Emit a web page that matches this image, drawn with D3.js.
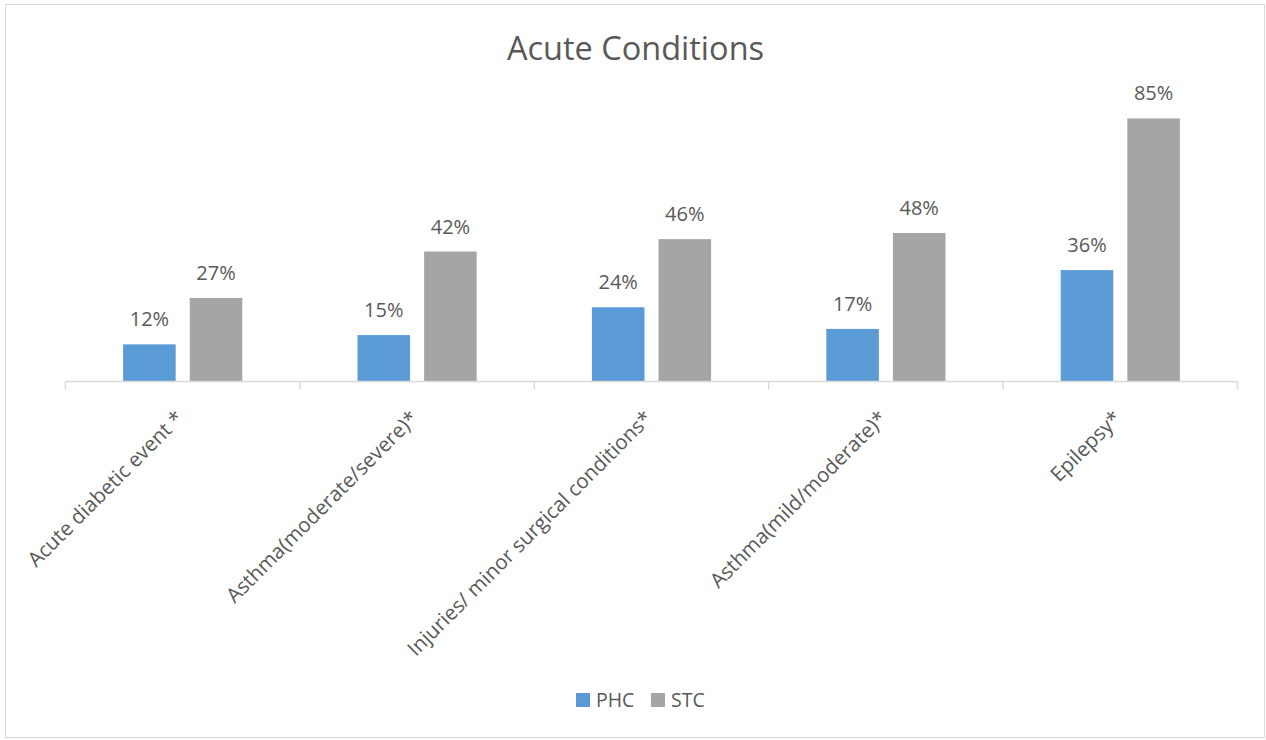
<!DOCTYPE html>
<html>
<head>
<meta charset="utf-8">
<script src="https://cdn.jsdelivr.net/npm/d3@7"></script>
<style>
  html, body { margin: 0; padding: 0; background: #ffffff; }
  svg { display: block; font-family: "Open Sans", "Noto Sans", sans-serif; }
</style>
</head>
<body>
<svg id="chart" width="1266" height="740"></svg>
<script>
// Acute conditions: share of cases handled, PHC vs STC
const categories = [
  "Acute diabetic event *",
  "Asthma(moderate/severe)*",
  "Injuries/ minor surgical conditions*",
  "Asthma(mild/moderate)*",
  "Epilepsy*"
];
const seriesNames = ["PHC", "STC"];
const phcValues = [12, 15, 24, 17, 36];
const stcValues = [27, 42, 46, 48, 85];
const seriesColors = ["#5b9bd5", "#a5a5a5"];
const title = "Acute Conditions";

const textColor = "#595959";
const gridColor = "#d9d9d9";

const svg = d3.select("#chart");

// chart frame
svg.append("rect")
  .attr("x", 5.5).attr("y", 4.5)
  .attr("width", 1259).attr("height", 733)
  .attr("fill", "#ffffff")
  .attr("stroke", gridColor)
  .attr("stroke-width", 1);

// title
svg.append("text")
  .attr("x", 635.5).attr("y", 60)
  .attr("text-anchor", "middle")
  .attr("fill", textColor)
  .attr("font-size", 32.5)
  .text(title);

const plot = { left: 65.5, right: 1237.5, top: 103, bottom: 381.5 };

const x = d3.scaleBand()
  .domain(categories)
  .range([plot.left, plot.right])
  .paddingInner(0).paddingOuter(0);

const y = d3.scaleLinear()
  .domain([0, 90])
  .range([plot.bottom, plot.top]);

const bw = x.bandwidth() * 0.2242;
const gap = x.bandwidth() * 0.06;
const x1 = d3.scaleOrdinal()
  .domain(seriesNames)
  .range([-(gap / 2 + bw), gap / 2]);

const rows = categories.map((c, i) => ({
  category: c,
  values: [
    { series: "PHC", value: phcValues[i] },
    { series: "STC", value: stcValues[i] }
  ]
}));

const groups = svg.append("g").selectAll("g")
  .data(rows)
  .join("g")
  .attr("transform", d => `translate(${x(d.category) + x.bandwidth() / 2},0)`);

groups.selectAll("rect")
  .data(d => d.values)
  .join("rect")
  .attr("x", d => x1(d.series))
  .attr("y", d => y(d.value))
  .attr("width", bw)
  .attr("height", d => y(0) - y(d.value))
  .attr("fill", (d, i) => seriesColors[i]);

groups.selectAll("text.value")
  .data(d => d.values)
  .join("text")
  .attr("class", "value")
  .attr("x", d => x1(d.series) + bw / 2)
  .attr("y", d => y(d.value) - 18)
  .attr("text-anchor", "middle")
  .attr("fill", textColor)
  .attr("font-size", 20)
  .text(d => d.value + "%");

// category axis
const xAxis = d3.axisBottom(x)
  .tickSize(0)
  .tickFormat(d => d);

const axisG = svg.append("g")
  .attr("transform", `translate(0,${plot.bottom})`)
  .call(xAxis);

axisG.select(".domain")
  .attr("stroke", gridColor)
  .attr("stroke-width", 1.5)
  .attr("d", `M${plot.left},0H${plot.right}`);

// tick marks on band boundaries
const bounds = categories.map(c => x(c)).concat([plot.right]);
axisG.selectAll("line.bound")
  .data(bounds)
  .join("line")
  .attr("class", "bound")
  .attr("x1", d => d).attr("x2", d => d)
  .attr("y1", 0).attr("y2", 8)
  .attr("stroke", gridColor)
  .attr("stroke-width", 1.5);

axisG.selectAll(".tick text")
  .attr("fill", textColor)
  .attr("font-size", 20.5)
  .attr("font-family", "\"Open Sans\", \"Noto Sans\", sans-serif")
  .attr("text-anchor", "end")
  .attr("x", 0).attr("y", 0).attr("dy", "0.35em")
  .attr("transform", "translate(-3,33) rotate(-45)");

// legend
const legend = svg.append("g")
  .attr("transform", "translate(576,693)");
const legendX = [0, 75];
seriesNames.forEach((name, i) => {
  const g = legend.append("g").attr("transform", `translate(${legendX[i]},0)`);
  g.append("rect")
    .attr("width", 14).attr("height", 14)
    .attr("fill", seriesColors[i]);
  g.append("text")
    .attr("x", 20).attr("y", 7)
    .attr("dy", "0.35em")
    .attr("fill", textColor)
    .attr("font-size", 19.5)
    .text(name);
});
</script>
</body>
</html>
